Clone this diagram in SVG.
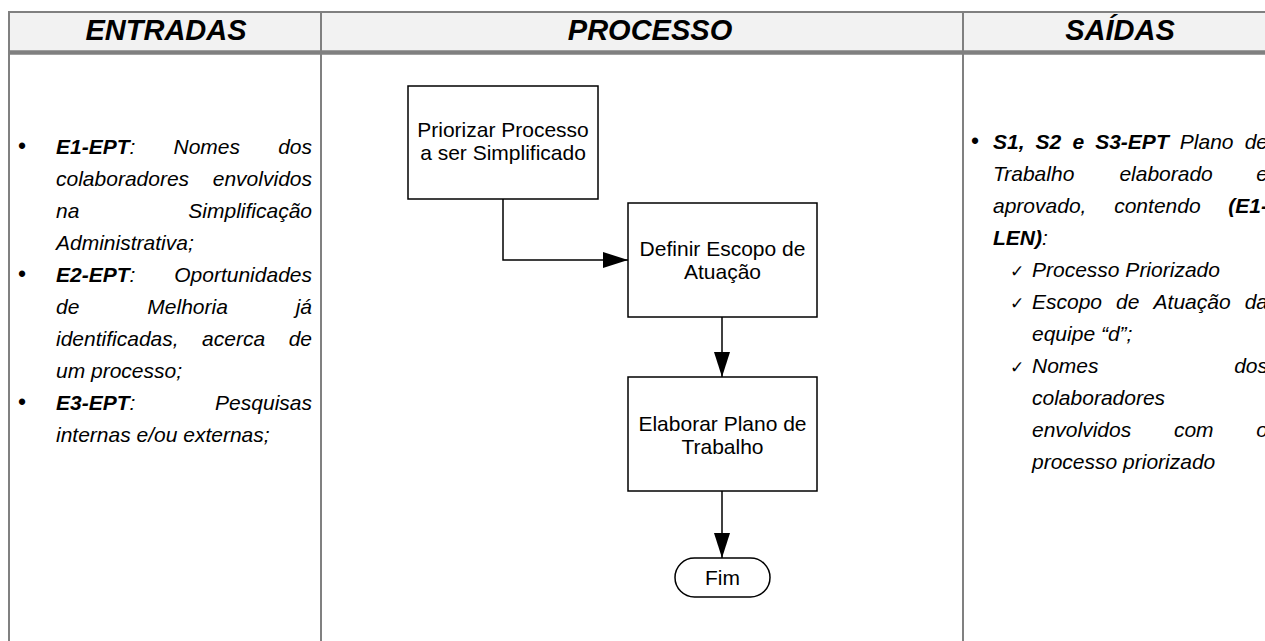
<svg xmlns="http://www.w3.org/2000/svg" width="1265" height="641" viewBox="0 0 1265 641">
<defs>
<style>
.hdr{font-family:"Liberation Sans",Arial,sans-serif;font-size:29px;font-weight:bold;font-style:italic;fill:#000;text-anchor:middle}
.bd{font-family:"Liberation Sans",Arial,sans-serif;font-size:21px;font-style:italic;fill:#000}
.b{font-weight:bold}
.e{text-anchor:end}
.bul{font-family:"Liberation Sans",Arial,sans-serif;font-size:23px;fill:#000}
.chk{font-family:"DejaVu Sans",sans-serif;font-size:17px;fill:#000}
.grid{stroke:#808080;fill:none}
.box{fill:#fff;stroke:#000;stroke-width:1.5}
.lbl{font-family:"Liberation Sans",Arial,sans-serif;font-size:21px;fill:#000;text-anchor:middle}
.conn{fill:none;stroke:#000;stroke-width:1.5}
</style>
<marker id="arr" viewBox="0 0 25 16" markerWidth="25" markerHeight="16" refX="25" refY="8" markerUnits="userSpaceOnUse" orient="auto">
<path d="M0,0 L25,8 L0,16 z" fill="#000"/>
</marker>
</defs>
<rect width="1265" height="641" fill="#fff"/>
<g id="table">
<rect x="9" y="12" width="1270" height="40" fill="#f2f2f2"/>
<line class="grid" x1="9" y1="12" x2="1265" y2="12" stroke-width="2"/>
<line class="grid" x1="9" y1="52.5" x2="1265" y2="52.5" stroke-width="4.5"/>
<line class="grid" x1="9" y1="11" x2="9" y2="641" stroke-width="2"/>
<line class="grid" x1="321" y1="11" x2="321" y2="641" stroke-width="2"/>
<line class="grid" x1="963" y1="11" x2="963" y2="641" stroke-width="2"/>
<text class="hdr" x="166" y="40">ENTRADAS</text>
<text class="hdr" x="650" y="40">PROCESSO</text>
<text class="hdr" x="1120" y="40">SAÍDAS</text>
</g>
<g id="entradas">
<text class="bul" x="18" y="154">•</text>
<text class="bd" y="154"><tspan x="56" class="b">E1-EPT</tspan><tspan>:</tspan><tspan x="173.5">Nomes</tspan><tspan x="312" class="e">dos</tspan></text>
<text class="bd" y="186"><tspan x="56">colaboradores</tspan><tspan x="312" class="e">envolvidos</tspan></text>
<text class="bd" y="218"><tspan x="56">na</tspan><tspan x="312" class="e">Simplificação</tspan></text>
<text class="bd" x="56" y="250">Administrativa;</text>
<text class="bul" x="18" y="282">•</text>
<text class="bd" y="282"><tspan x="56" class="b">E2-EPT</tspan><tspan>:</tspan><tspan x="312" class="e">Oportunidades</tspan></text>
<text class="bd" y="314"><tspan x="56">de</tspan><tspan x="147.3">Melhoria</tspan><tspan x="312" class="e">já</tspan></text>
<text class="bd" y="346"><tspan x="56">identificadas,</tspan><tspan x="202.1">acerca</tspan><tspan x="312" class="e">de</tspan></text>
<text class="bd" x="56" y="378">um processo;</text>
<text class="bul" x="18" y="410">•</text>
<text class="bd" y="410"><tspan x="56" class="b">E3-EPT</tspan><tspan>:</tspan><tspan x="312" class="e">Pesquisas</tspan></text>
<text class="bd" x="56" y="442">internas e/ou externas;</text>
</g>
<g id="saidas">
<text class="bul" x="971" y="149" font-size="16">•</text>
<text class="bd" y="149"><tspan x="993" class="b">S1,</tspan><tspan x="1035.6" class="b">S2</tspan><tspan x="1072.4" class="b">e</tspan><tspan x="1095.2" class="b">S3-EPT</tspan><tspan x="1179.8">Plano</tspan><tspan x="1268" class="e">de</tspan></text>
<text class="bd" y="181"><tspan x="993">Trabalho</tspan><tspan x="1119.4">elaborado</tspan><tspan x="1268" class="e">e</tspan></text>
<text class="bd" y="213"><tspan x="993">aprovado,</tspan><tspan x="1114.2">contendo</tspan><tspan x="1268" class="e b">(E1-</tspan></text>
<text class="bd" x="993" y="245"><tspan class="b">LEN)</tspan><tspan>:</tspan></text>
<text class="chk" x="1010" y="277">✓</text>
<text class="bd" x="1032" y="277">Processo Priorizado</text>
<text class="chk" x="1010" y="309">✓</text>
<text class="bd" y="309"><tspan x="1032">Escopo</tspan><tspan x="1116.1">de</tspan><tspan x="1153.6">Atuação</tspan><tspan x="1268" class="e">da</tspan></text>
<text class="bd" x="1032" y="341">equipe “d”;</text>
<text class="chk" x="1010" y="373">✓</text>
<text class="bd" y="373"><tspan x="1032">Nomes</tspan><tspan x="1268" class="e">dos</tspan></text>
<text class="bd" x="1032" y="405">colaboradores</text>
<text class="bd" y="437"><tspan x="1032">envolvidos</tspan><tspan x="1173.9">com</tspan><tspan x="1268" class="e">o</tspan></text>
<text class="bd" x="1032" y="469">processo priorizado</text>
</g>
<g id="connectors">
<path class="conn" d="M503,199 V260 H628" marker-end="url(#arr)"/>
<path class="conn" d="M722,317 V377" marker-end="url(#arr)"/>
<path class="conn" d="M722,491 V558" marker-end="url(#arr)"/>
</g>
<g id="n-priorizar">
<rect class="box" x="408" y="86" width="190" height="113"/>
<text class="lbl" x="503" y="137">Priorizar Processo</text>
<text class="lbl" x="503" y="160">a ser Simplificado</text>
</g>
<g id="n-definir">
<rect class="box" x="628" y="203" width="189" height="114"/>
<text class="lbl" x="722.5" y="256">Definir Escopo de</text>
<text class="lbl" x="722.5" y="279">Atuação</text>
</g>
<g id="n-elaborar">
<rect class="box" x="628" y="377" width="189" height="114"/>
<text class="lbl" x="722.5" y="431">Elaborar Plano de</text>
<text class="lbl" x="722.5" y="454">Trabalho</text>
</g>
<g id="n-fim">
<rect class="box" x="675" y="558" width="95" height="39" rx="19.5" ry="19.5"/>
<text class="lbl" x="722.5" y="585">Fim</text>
</g>
</svg>
